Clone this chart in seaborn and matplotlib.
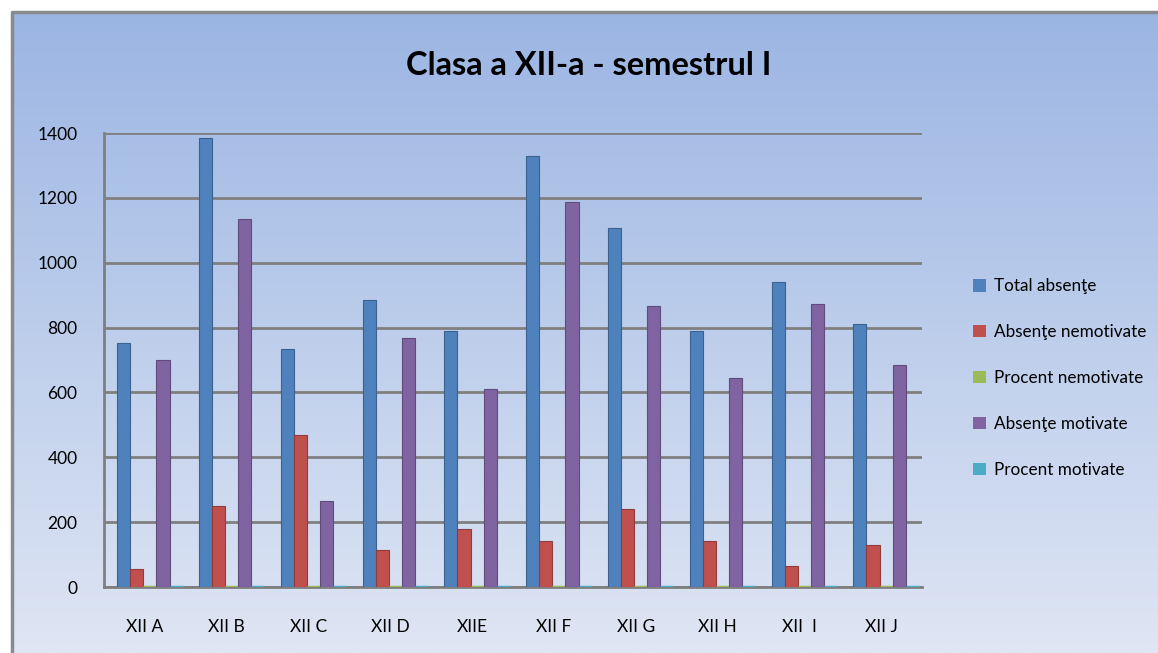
import matplotlib
matplotlib.use('Agg')
import matplotlib.pyplot as plt
import matplotlib.colors as mcolors
import matplotlib.transforms as mtransforms
from matplotlib.patches import Patch, Rectangle
import numpy as np
import pandas as pd
import seaborn as sns

# Data
clase = ['XII A', 'XII B', 'XII C', 'XII D', 'XIIE', 'XII F', 'XII G', 'XII H', 'XII  I', 'XII J']
total_absente = [753, 1385, 734, 884, 790, 1329, 1107, 788, 940, 812]
absente_nemotivate = [54, 250, 469, 115, 180, 141, 241, 143, 66, 128]
procent_nemotivate = [0.07, 0.18, 0.64, 0.13, 0.23, 0.11, 0.22, 0.18, 0.07, 0.16]
absente_motivate = [699, 1135, 265, 769, 610, 1188, 866, 645, 874, 684]
procent_motivate = [0.93, 0.82, 0.36, 0.87, 0.77, 0.89, 0.78, 0.82, 0.93, 0.84]

serii = ['Total absenţe', 'Absenţe nemotivate', 'Procent nemotivate', 'Absenţe motivate', 'Procent motivate']
culori = ['#4F81BD', '#C0504D', '#9BBB59', '#8064A2', '#4BACC6']
y_ticks = [0, 200, 400, 600, 800, 1000, 1200, 1400]

valori = [total_absente, absente_nemotivate, procent_nemotivate, absente_motivate, procent_motivate]
df = pd.DataFrame({
    'clasa': np.tile(clase, len(serii)),
    'serie': np.repeat(serii, len(clase)),
    'valoare': np.concatenate(valori),
})

font = ['Lato', 'DejaVu Sans']
plt.rcParams['font.family'] = font

fig = plt.figure(figsize=(11.58, 6.53), dpi=100)
fig.patch.set_facecolor('white')

# gradient background for the chart area
W, H = 1158, 653
bg = fig.add_axes([12 / W, 0, 1 - 12 / W, 1 - 12 / H], zorder=0)
top = np.array(mcolors.to_rgb('#9BB5E3'))
bot = np.array(mcolors.to_rgb('#DFE6F4'))
t = np.linspace(0, 1, 256)[:, None]
grad = (top * (1 - t) + bot * t)[:, None, :]
bg.imshow(grad, aspect='auto', extent=[0, 1, 0, 1])
bg.set_xlim(0, 1)
bg.set_ylim(0, 1)
bg.axis('off')
# border only on the left and top, the chart runs past the right/bottom edge
bg.plot([0, 0, 1.01], [-0.01, 1, 1], transform=bg.transAxes, color='#888A8E',
        linewidth=2.5, clip_on=False)

ax = fig.add_axes([104 / W, (H - 587) / H, 818 / W, (587 - 133) / H], zorder=1)
ax.set_facecolor('none')

sns.barplot(data=df, x='clasa', y='valoare', hue='serie', hue_order=serii,
            palette=culori, width=0.8, saturation=1, ax=ax, legend=False)

# shift the bars a bit right, like the 3D depth offset in the original
shift = mtransforms.ScaledTranslation(5 / 100, 0, fig.dpi_scale_trans)
for cont, c in zip(ax.containers, culori):
    for bar in cont:
        bar.set_transform(ax.transData + shift)
        if bar.get_height() < 5:
            bar.set_edgecolor(c)
            bar.set_linewidth(2.5)
        else:
            bar.set_edgecolor(mcolors.to_hex(np.array(mcolors.to_rgb(c)) * 0.75))
            bar.set_linewidth(0.8)
        bar.set_zorder(3)

ax.set_ylim(0, 1400)
ax.set_xlim(-0.5, len(clase) - 0.5)
ax.set_yticks(y_ticks)
ax.yaxis.grid(True, color='#7F7F7F', linewidth=2, zorder=0)
ax.set_axisbelow(True)
for s in ['top', 'right']:
    ax.spines[s].set_visible(False)
ax.spines['left'].set_color('#7F7F7F')
ax.spines['left'].set_linewidth(2)
ax.spines['bottom'].set_color('#7F7F7F')
ax.spines['bottom'].set_linewidth(2)
ax.tick_params(axis='both', length=0, labelsize=12.5, colors='black')
ax.tick_params(axis='y', pad=19)
ax.tick_params(axis='x', pad=23)
ax.set_xlabel('')
ax.set_ylabel('')

fig.text(0.508, 0.9, 'Clasa a XII-a - semestrul I', ha='center', va='center',
         fontsize=23.5, fontweight='bold', family=font)

handles = [Patch(facecolor=c, edgecolor='none') for c in culori]
fig.legend(handles, serii, loc='center left', bbox_to_anchor=(958 / W, (H - 378) / H),
           frameon=False, fontsize=12.3, labelspacing=1.75, handlelength=0.75,
           handleheight=0.75, handletextpad=0.45)

fig.savefig('out.png', dpi=100)
